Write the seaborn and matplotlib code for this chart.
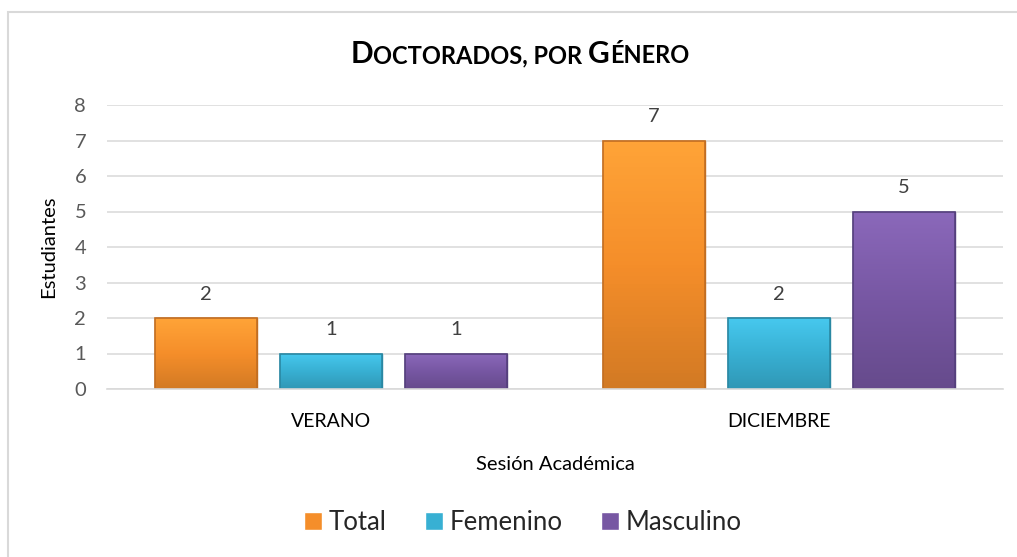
import numpy as np
import pandas as pd
import matplotlib
matplotlib.use("Agg")
import matplotlib.pyplot as plt
import seaborn as sns
from matplotlib.offsetbox import TextArea, HPacker, AnchoredOffsetbox
from matplotlib.patches import Rectangle
import matplotlib.colors as mcolors

# ---- data ----
sessions = ["VERANO", "DICIEMBRE"]
series = ["Total", "Femenino", "Masculino"]
total = [2, 7]
femenino = [1, 2]
masculino = [1, 5]
yticks = [0, 1, 2, 3, 4, 5, 6, 7, 8]

colors = ["#F58E2A", "#38B0D3", "#7757A3"]
edges = ["#C26E22", "#2A88A3", "#55407D"]

sns.set_theme(style="white")
plt.rcParams["font.family"] = ["Lato", "DejaVu Sans"]

df = pd.DataFrame({
    "Sesión": sessions * 3,
    "Serie": [s for s in series for _ in sessions],
    "Valor": total + femenino + masculino,
})

W, H = 1017, 557
fig = plt.figure(figsize=(W / 100, H / 100), dpi=100)
ax = fig.add_axes([107 / W, 1 - 389 / H, 896 / W, 284 / H])

sns.barplot(data=df, x="Sesión", y="Valor", hue="Serie", order=sessions,
            hue_order=series, palette=colors, width=0.837, gap=0.19,
            ax=ax, legend=True, saturation=1)

ax.set_xlim(-0.5, 1.5)
ax.set_ylim(0, 8)
ax.set_yticks(yticks)
ax.grid(axis="y", color="#D9D9D9", linewidth=1.1)
ax.set_axisbelow(True)
for s in ["top", "right", "left"]:
    ax.spines[s].set_visible(False)
ax.spines["bottom"].set_color("#D9D9D9")
ax.spines["bottom"].set_linewidth(1.2)
ax.tick_params(axis="y", length=0, pad=15, labelsize=14.5, labelcolor="#595959")
ax.tick_params(axis="x", length=0, pad=17, labelsize=14, labelcolor="#000000")

ax.set_ylabel("Estudiantes", fontsize=14.5, color="#000000")
ax.yaxis.set_label_coords(-0.056, 0.5)
ax.set_xlabel("Sesión Académica", fontsize=14.5, color="#000000")
ax.xaxis.set_label_coords(0.5, -0.235)

# gradient / bevel look on bars
grad = np.linspace(0, 1, 64).reshape(-1, 1)
for i, cont in enumerate(ax.containers):
    base = np.array(mcolors.to_rgb(colors[i]))
    light = np.clip(base * 1.08 + 0.04, 0, 1)
    dark = base * 0.86
    cmap = mcolors.LinearSegmentedColormap.from_list("g%d" % i, [dark, base, light])
    for p in cont.patches:
        p.set_edgecolor(edges[i])
        p.set_linewidth(1.0)
        x0, y0 = p.get_x(), p.get_y()
        w, h = p.get_width(), p.get_height()
        im = ax.imshow(grad, cmap=cmap, origin="lower", aspect="auto",
                       extent=[x0, x0 + w, y0, y0 + h], zorder=p.get_zorder() + 0.1)
        im.set_clip_path(p)
        ov = Rectangle((x0, y0), w, h, fill=False, edgecolor=edges[i],
                       linewidth=1.2, zorder=p.get_zorder() + 0.2)
        ax.add_patch(ov)
    ax.bar_label(cont, labels=[str(int(v)) for v in cont.datavalues],
                 padding=11, fontsize=14.5, color="#404040")
ax.set_xlim(-0.5, 1.5)
ax.set_ylim(0, 8)

# legend
handles, labels = ax.get_legend_handles_labels()
ax.legend(handles, labels, loc="center", bbox_to_anchor=(523 / W, 1 - 522 / H),
          bbox_transform=fig.transFigure, ncol=3, frameon=False, fontsize=18.5,
          handlelength=0.7, handleheight=0.7, handletextpad=0.25,
          columnspacing=1.5)

# title with small caps
big, small = 21.5, 17
parts = [("D", big), ("OCTORADOS, POR ", small), ("G", big), ("ÉNERO", small)]
areas = [TextArea(t, textprops=dict(fontsize=s, fontweight="bold", color="black",
                                    family=["Lato", "DejaVu Sans"]))
         for t, s in parts]
pack = HPacker(children=areas, align="baseline", pad=0, sep=0)
ab = AnchoredOffsetbox(loc="center", child=pack, frameon=False,
                       bbox_to_anchor=(520 / W, 1 - 54 / H),
                       bbox_transform=fig.transFigure, pad=0, borderpad=0)
fig.add_artist(ab)

# chart border
fig.add_artist(Rectangle((8 / W, -0.05), 1.2, 1 - 12 / H + 0.05, fill=False,
                         edgecolor="#D9D9D9", linewidth=1.5,
                         transform=fig.transFigure))

fig.savefig("out.png", dpi=100)
